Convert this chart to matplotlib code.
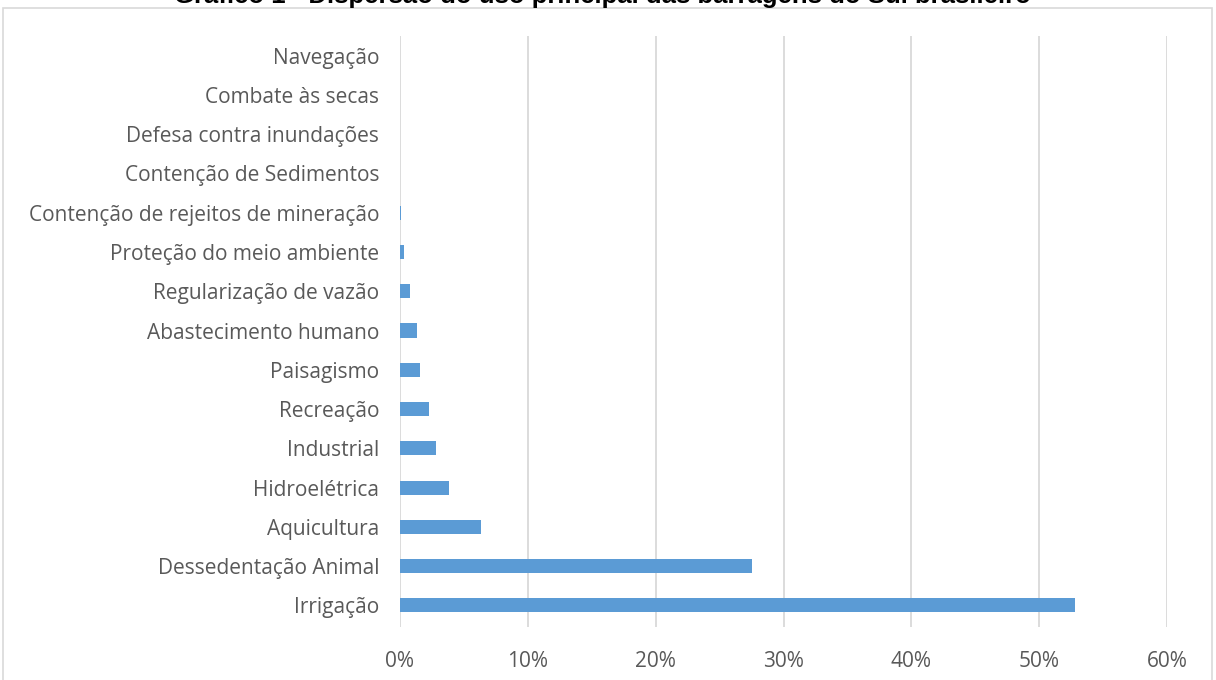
import matplotlib.pyplot as plt
from matplotlib.patches import Rectangle
from matplotlib.ticker import FuncFormatter

# uso principal das barragens, de baixo para cima
usos = ['Irrigação', 'Dessedentação Animal', 'Aquicultura', 'Hidroelétrica',
        'Industrial', 'Recreação', 'Paisagismo', 'Abastecimento humano',
        'Regularização de vazão', 'Proteção do meio ambiente',
        'Contenção de rejeitos de mineração', 'Contenção de Sedimentos',
        'Defesa contra inundações', 'Combate às secas', 'Navegação']
percentuais = [0.528, 0.275, 0.063, 0.038, 0.028, 0.023, 0.016, 0.013,
               0.008, 0.003, 0.001, 0.0, 0.0, 0.0, 0.0]
xticks = [0, 0.1, 0.2, 0.3, 0.4, 0.5, 0.6]

plt.rcParams['font.family'] = ['Open Sans', 'DejaVu Sans']

fig = plt.figure(figsize=(12.16, 6.8), dpi=100)
ax = fig.add_axes([400/1216, 1-627/680, (1167-400)/1216, (627-36)/680])

ax.barh(range(len(usos)), percentuais, height=0.36, color='#5B9BD5', zorder=3)
ax.set_yticks(range(len(usos)))
ax.set_yticklabels(usos)
ax.set_ylim(-0.55, len(usos) - 0.5)
ax.set_xlim(0, 0.6)
ax.set_xticks(xticks)
ax.xaxis.set_major_formatter(FuncFormatter(lambda v, p: '%d%%' % round(v*100)))
ax.grid(axis='x', color='#d9d9d9', linewidth=1.3, zorder=0)
for s in ax.spines.values():
    s.set_visible(False)
ax.tick_params(length=0, labelsize=15, colors='#595959')
ax.tick_params(axis='y', pad=15)
ax.tick_params(axis='x', pad=17)

# moldura do grafico
fig.patches.append(Rectangle((3/1216, -0.1), 1209/1216, 1.1 - 8/680,
                             transform=fig.transFigure, fill=False,
                             edgecolor='#d9d9d9', linewidth=1.2))

fig.text(602/1216, 1.006, 'Gráfico 1 - Dispersão do uso principal das barragens do Sul brasileiro',
         ha='center', va='center', fontsize=18.5, fontweight='bold',
         family=['Liberation Sans', 'DejaVu Sans'])

fig.savefig('out.png', dpi=100)
